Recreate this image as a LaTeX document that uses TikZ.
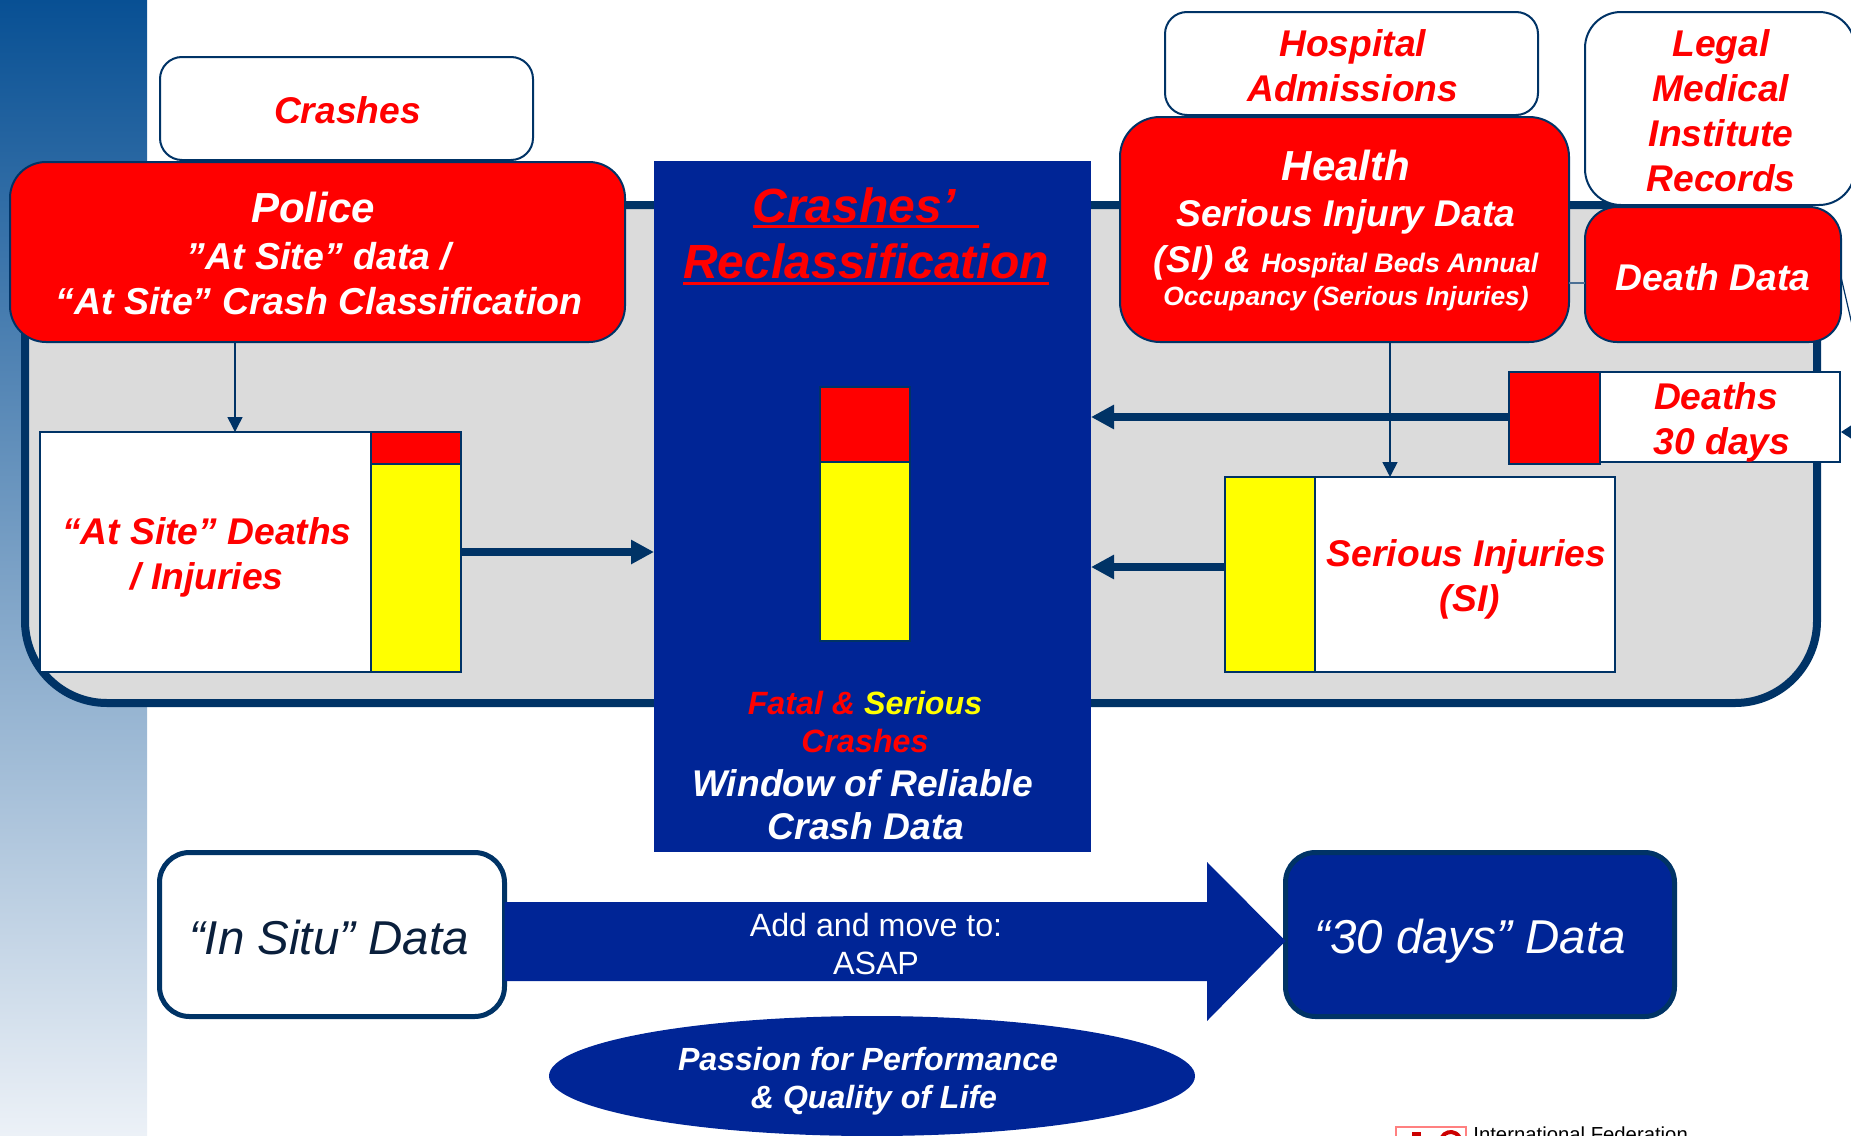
\documentclass[tikz,border=0pt]{standalone}
\usepackage{fontspec}
\setmainfont{Liberation Sans}
\usetikzlibrary{arrows.meta,shapes.geometric}
\definecolor{navy}{HTML}{003366}
\definecolor{royal}{HTML}{002596}
\definecolor{panelgrey}{HTML}{DBDBDB}
\definecolor{inkdark}{HTML}{0A1F3C}
\definecolor{pureyellow}{HTML}{FFFF00}
\definecolor{purered}{HTML}{FF0000}
\newcommand{\fsz}[2]{\fontsize{#1}{#2}\selectfont}
\newcommand{\thickul}[1]{\setbox0=\hbox{#1}\rlap{\smash{\rule[-3pt]{\wd0}{1.4pt}}}\box0}
\tikzset{
  wh/.style 2 args={minimum width=#1*0.5pt,minimum height=#2*0.5pt,inner sep=0pt,outer sep=0pt},
  srcbox/.style={draw=navy,line width=1pt,fill=white},
  redbox/.style={draw=navy,line width=1pt,fill=purered},
  swatch/.style={draw=navy,line width=1pt},
  thinarrow/.style={draw=navy,line width=0.75pt,-{Triangle[length=7.5pt,width=7.5pt]}},
  thickarrow/.style={draw=navy,line width=4pt,-{Triangle[length=11.5pt,width=11.5pt]}},
  dataround/.style={line width=2.5pt,draw=navy,rounded corners=15pt},
  lbl/.style={inner sep=0pt,align=center,font=\bfseries\itshape\fsz{18.6}{22.5}},
  redlbl/.style={lbl,text=purered},
  whitelbl/.style={lbl,text=white},
  biglbl/.style={inner sep=0pt,align=center,font=\itshape\fsz{23.75}{28}}
}
\begin{document}
\begin{tikzpicture}[x=0.5pt,y=-0.5pt]
\useasboundingbox (0,0) rectangle (1851,1135);
\clip (0,0) rectangle (1851,1135);
\shade[top color={rgb,255:red,8;green,80;blue,148},bottom color={rgb,255:red,236;green,241;blue,247}] (0,0) rectangle (147,1135);
\node[draw=navy,line width=4pt,fill=panelgrey,rounded corners=41pt,wh={1792}{498}] (panel) at (921,454) {};
\node[fill=royal,wh={437}{691}] (centre) at (872.5,506.5) {};
% source boxes
\node[srcbox,rounded corners=11pt,wh={373}{103}] (crashes) at (346.5,108.5) {};
\node[redlbl] (crashestext) at (347.5,110.3) {Crashes};
\node[redbox,rounded corners=18pt,wh={615}{180}] (police) at (317.5,252) {};
\node[whitelbl,font=\bfseries\itshape\fsz{18.75}{22.5}] (policetext) at (319,253.6)
  {\fsz{21}{22.5}Police\hspace*{6pt}\\[1pt]”At Site” data /\\“At Site” Crash Classification};
\node[srcbox,rounded corners=11pt,wh={373}{103}] (hospital) at (1351.5,63.5) {};
\node[redlbl] (hospitaltext) at (1352.7,65.9) {Hospital\\Admissions};
\node[srcbox,rounded corners=18pt,wh={270}{193}] (legal) at (1720,108.5) {};
\node[redlbl] (legaltext) at (1721,110.9) {Legal\\Medical\\Institute\hspace*{6pt}\\Records};
\node[redbox,rounded corners=20pt,wh={449}{225}] (health) at (1344.5,229.5) {};
\node[whitelbl] (healthtext) at (1346,231)
  {\fsz{21}{24}Health\\[0.5pt]\fsz{18.6}{24}Serious Injury Data\\[0.2pt]\fsz{18.6}{21}(SI) \& {\fsz{13.4}{16}Hospital Beds Annual}\\[-5.7pt]\fsz{13.2}{17}Occupancy (Serious Injuries)};
\node[redbox,rounded corners=16pt,wh={256}{135}] (death) at (1713,274.5) {};
\node[whitelbl] (deathtext) at (1713,277.5) {Death Data};
% at-site stack
\node[srcbox,wh={331}{240}] (atsite) at (205.5,552) {};
\node[redlbl] (atsitetext) at (207,557) {“At Site” Deaths\\/ Injuries};
\node[swatch,fill=purered,wh={90}{32}] (atred) at (416,448) {};
\node[swatch,fill=pureyellow,wh={90}{208}] (atyellow) at (416,568) {};
% serious injuries
\node[swatch,fill=pureyellow,wh={90}{195}] (siyellow) at (1270,574.5) {};
\node[srcbox,wh={300}{195}] (si) at (1465,574.5) {};
\node[redlbl] (sitext) at (1466.5,579.8) {Serious Injuries\\\hspace*{3.3pt}(SI)};
% deaths 30 days
\node[srcbox,wh={240}{90}] (d30) at (1720,417) {};
\node[redlbl] (d30text) at (1719.5,422.3) {Deaths\hspace*{3.5pt}\\\hspace*{2.4pt}30 days};
\node[swatch,fill=purered,wh={91}{92}] (d30red) at (1554.5,418) {};
% centre
\node[redlbl,font=\bfseries\itshape\fsz{24}{28.2}] (title) at (866,233.2) {\thickul{Crashes’\ \hspace*{5.3pt}}\\\thickul{Reclassification}};
\node[swatch,line width=0.75pt,fill=purered,wh={90}{75}] (cred) at (865,424.5) {};
\node[swatch,line width=0.75pt,fill=pureyellow,wh={90}{179}] (cyellow) at (865,551.5) {};
\node[redlbl,font=\bfseries\itshape\fsz{16.1}{19}] (fatal) at (865,722) {Fatal \& {\color{pureyellow}Serious}\\Crashes};
\node[whitelbl,font=\bfseries\itshape\fsz{18.6}{21.8}] (window) at (862.5,804.5) {Window of Reliable\\\hspace*{3.5pt}Crash Data};
% data boxes
\node[dataround,fill=white,wh={345}{164}] (insitu) at (332,934.5) {};
\node[biglbl,text=inkdark] (insitutext) at (329,938) {“In Situ” Data};
\node[dataround,fill=royal,wh={389}{164}] (thirty) at (1480,934.5) {};
\node[biglbl,text=white] (thirtytext) at (1470,941.5) {“30 days” Data};
\fill[royal] (insitu.east |- 0,902) -- (1207,902) -- (1207,862) -- (thirty.west |- 0,941) -- (1207,1021) -- (1207,981) -- (insitu.east |- 0,981) -- cycle;
\node[inner sep=0pt,align=center,text=white,font=\fsz{16.1}{19}] (add) at (876,944) {Add and move to:\\ASAP};
\node[ellipse,fill=royal,inner sep=0pt,minimum width=323pt,minimum height=60pt] (passion) at (872,1076) {};
\node[whitelbl,font=\bfseries\itshape\fsz{16.05}{19}] (passiontext) at (868,1081.5) {Passion for Performance\\\hspace*{6pt}\& Quality of Life};
% connectors
\coordinate (pdrop) at (235,342);
\draw[thinarrow] (pdrop) -- (pdrop |- atsite.north);
\coordinate (hdrop) at (1390,342);
\draw[thinarrow] (hdrop) -- (hdrop |- si.north);
\draw[thickarrow] (atyellow.east |- 0,552) -- (centre.west |- 0,552);
\draw[thickarrow] (d30red.west |- 0,417) -- (centre.east |- 0,417);
\draw[thickarrow] (siyellow.west |- 0,567) -- (centre.east |- 0,567);
\coordinate (hd) at (1569,283);
\draw[draw=navy!70,line width=0.6pt] (hd) -- (death.west |- hd);
\coordinate (ds) at (1841,277);
\coordinate (off) at (1866,385);
\coordinate (dt) at (1841,432);
\draw[draw=navy,line width=0.6pt] (ds) -- (off);
\draw[thinarrow,-{Triangle[length=7pt,width=9pt]}] (off |- dt) -- (dt);
% logo
\node[draw=purered!50,line width=1pt,fill=white,wh={70}{40},anchor=north west] (logo) at (1396,1127) {};
\fill[purered!80!black] (1412,1132) rectangle (1421,1140);
\draw[purered!80!black,line width=2pt] (1442,1137) arc[start angle=150,end angle=30,radius=5pt];
\node[anchor=base west,inner sep=0pt,text=black,font=\fsz{10.15}{12}] (ifed) at (1473,1141) {International Federation};
\end{tikzpicture}
\end{document}
